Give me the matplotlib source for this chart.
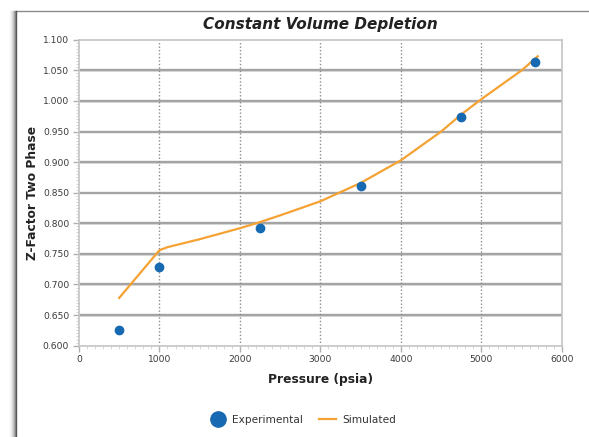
import matplotlib
matplotlib.use("Agg")
import matplotlib.pyplot as plt
from matplotlib.lines import Line2D
from matplotlib.ticker import MultipleLocator, FormatStrFormatter

# experimental data points
exp_pressure = [500, 1000, 2250, 3500, 4750, 5660]
exp_z = [0.625, 0.728, 0.793, 0.861, 0.973, 1.064]

# simulated curve
sim_pressure = [500, 1000, 1100, 1500, 2000, 2250, 2500, 3000, 3500, 4000, 4500, 4750, 5000, 5500, 5700]
sim_z = [0.678, 0.756, 0.761, 0.774, 0.792, 0.802, 0.813, 0.836, 0.866, 0.903, 0.950, 0.978, 1.003, 1.050, 1.073]

fig = plt.figure(figsize=(5.89, 4.37), dpi=100)
ax = fig.add_axes([0.134, 0.209, 0.820, 0.700])

# grid: solid horizontal, dotted vertical
for yv in [0.65, 0.70, 0.75, 0.80, 0.85, 0.90, 0.95, 1.00, 1.05]:
    ax.axhline(yv - 0.0012, color='#dcdcdc', lw=1.2, zorder=1)
    ax.axhline(yv, color='#a4a4a4', lw=1.7, zorder=1)
for xv in [1000, 2000, 3000, 4000, 5000]:
    ax.axvline(xv, color='#8c8c8c', lw=1.0, ls=(0, (1, 1.5)), zorder=1)

ax.plot(sim_pressure, sim_z, color='#f5a234', lw=1.6, zorder=3, label='Simulated')
ax.plot(exp_pressure, exp_z, 'o', color='#1769b1', ms=6, zorder=4, label='Experimental')

ax.set_xlim(0, 6000)
ax.set_ylim(0.600, 1.100)
ax.xaxis.set_major_locator(MultipleLocator(1000))
ax.xaxis.set_minor_locator(MultipleLocator(100))
ax.yaxis.set_major_locator(MultipleLocator(0.05))
ax.yaxis.set_minor_locator(MultipleLocator(0.005))
ax.yaxis.set_major_formatter(FormatStrFormatter('%.3f'))

for s in ax.spines.values():
    s.set_color('#c4c4c4')
    s.set_linewidth(1.2)
ax.tick_params(which='major', length=4, width=1, color='#b0b0b0',
               labelsize=6.6, labelcolor='#3a3a3a', pad=3)
ax.tick_params(which='minor', length=2.5, width=0.6, color='#d0d0d0')

ax.set_title('Constant Volume Depletion', fontsize=11, fontweight='bold',
             fontstyle='italic', color='#222222', pad=8)
ax.set_xlabel('Pressure (psia)', fontsize=8.8, fontweight='bold', color='#222222', labelpad=6)
ax.set_ylabel('Z-Factor Two Phase', fontsize=8.8, fontweight='bold', color='#222222', labelpad=3)

handles = [Line2D([], [], marker='o', ls='none', color='#1769b1', ms=11),
           Line2D([], [], color='#f5a234', lw=1.6)]
fig.legend(handles, ['Experimental', 'Simulated'], loc='center',
           bbox_to_anchor=(0.514, 0.04), ncol=2, frameon=False,
           fontsize=7.6, labelcolor='#333333', handlelength=1.6,
           columnspacing=1.5, handletextpad=0.6)

# outer frame with shadow on the left
W, H = 589.0, 437.0
fx, fy = 15.5 / W, 1 - 10.5 / H
fig.add_artist(Line2D([fx, 1.0], [fy, fy], transform=fig.transFigure, color='#8a8a8a', lw=1.0))
for i, a in enumerate([0.95, 0.6, 0.4, 0.25, 0.15, 0.08, 0.04]):
    xx = (15.5 - i) / W
    fig.add_artist(Line2D([xx, xx], [0, fy], transform=fig.transFigure,
                          color='#505050', alpha=a, lw=1.0))

fig.savefig('out.png', dpi=100)
